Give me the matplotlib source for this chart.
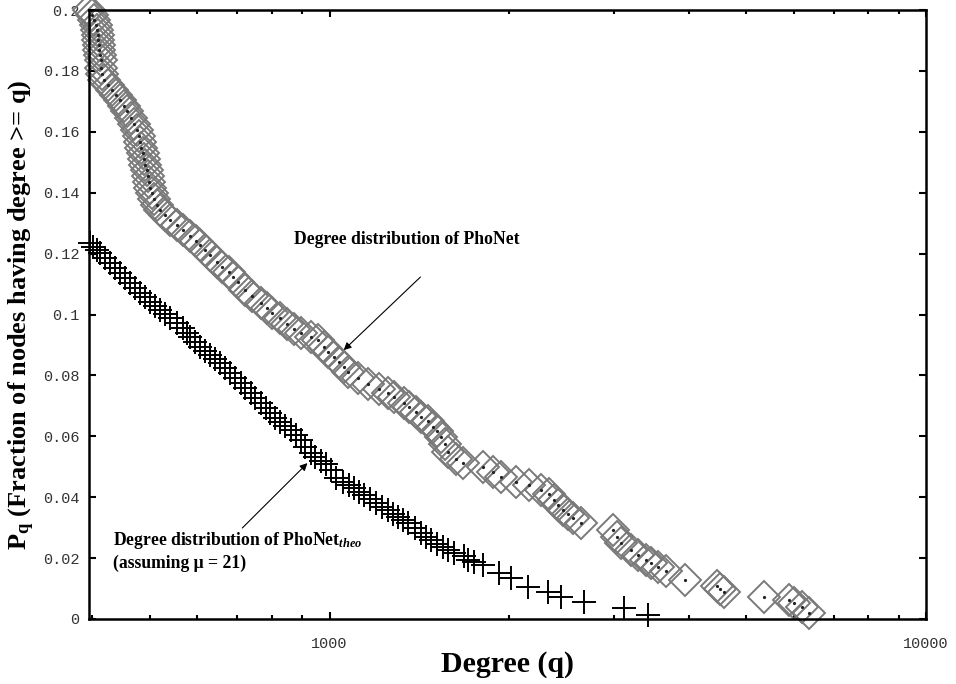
import numpy as np
import matplotlib
matplotlib.use("Agg")
import matplotlib.pyplot as plt
from matplotlib.ticker import FixedLocator, FuncFormatter, LogLocator, NullFormatter

plt.rcParams['mathtext.fontset'] = 'custom'
plt.rcParams['mathtext.rm'] = 'Liberation Serif:bold'
plt.rcParams['mathtext.bf'] = 'Liberation Serif:bold'
plt.rcParams['mathtext.it'] = 'Liberation Serif:bold:italic'

# cumulative degree distribution of PhoNet (observed)
phonet_deg = [395, 400, 403, 406, 407, 409, 409, 411, 411, 412,
              413, 413, 415, 419, 425, 432, 439, 445, 452, 458,
              465, 470, 476, 479, 481, 483, 487, 489, 491, 494,
              496, 498, 500, 504, 508, 514, 520, 530, 540, 555,
              568, 584, 598, 607, 619, 631, 648, 661, 677, 690,
              703, 722, 742, 766, 784, 802, 827, 850, 870, 894,
              929, 955, 977, 992, 1016, 1035, 1056, 1072, 1114, 1158,
              1209, 1252, 1281, 1332, 1358, 1395, 1422, 1461, 1490, 1513,
              1537, 1561, 1579, 1628, 1673, 1808, 1879, 1938, 2054, 2160,
              2263, 2334, 2380, 2417, 2464, 2512, 2561, 2642, 2990, 3036,
              3084, 3206, 3294, 3397, 3463, 3559, 3670, 3950, 4454, 4523,
              4576, 5342, 5885, 6000, 6189, 6359]
phonet_pq = [0.2000, 0.1984, 0.1967, 0.1951, 0.1934, 0.1918, 0.1901, 0.1885, 0.1869, 0.1852,
             0.1836, 0.1810, 0.1790, 0.1770, 0.1754, 0.1737, 0.1721, 0.1704, 0.1685, 0.1668,
             0.1645, 0.1626, 0.1606, 0.1586, 0.1567, 0.1547, 0.1530, 0.1511, 0.1491, 0.1475,
             0.1455, 0.1435, 0.1415, 0.1399, 0.1379, 0.1360, 0.1343, 0.1327, 0.1310, 0.1294,
             0.1278, 0.1258, 0.1241, 0.1228, 0.1212, 0.1195, 0.1172, 0.1156, 0.1140, 0.1123,
             0.1107, 0.1080, 0.1061, 0.1038, 0.1021, 0.1005, 0.0989, 0.0969, 0.0952, 0.0939,
             0.0926, 0.0916, 0.0893, 0.0877, 0.0860, 0.0844, 0.0828, 0.0811, 0.0791, 0.0772,
             0.0755, 0.0742, 0.0729, 0.0709, 0.0696, 0.0680, 0.0663, 0.0650, 0.0631, 0.0617,
             0.0598, 0.0575, 0.0548, 0.0525, 0.0512, 0.0499, 0.0483, 0.0466, 0.0450, 0.0440,
             0.0424, 0.0411, 0.0391, 0.0374, 0.0358, 0.0345, 0.0332, 0.0315, 0.0292, 0.0269,
             0.0250, 0.0227, 0.0210, 0.0194, 0.0184, 0.0171, 0.0158, 0.0128, 0.0108, 0.0099,
             0.0089, 0.0072, 0.0062, 0.0053, 0.0039, 0.0020]

# theoretical distribution (mu = 21)
theo_deg = [397, 401, 407, 412, 420, 429, 437, 445, 454, 463,
            472, 481, 491, 500, 510, 520, 530, 540, 555, 568,
            577, 584, 595, 607, 619, 631, 643, 656, 669, 682,
            695, 709, 722, 737, 751, 766, 781, 796, 811, 827,
            843, 860, 877, 894, 911, 929, 947, 966, 985, 1004,
            1027, 1052, 1076, 1097, 1119, 1141, 1167, 1195, 1223, 1252,
            1276, 1301, 1326, 1352, 1390, 1422, 1450, 1478, 1513, 1549,
            1579, 1616, 1680, 1706, 1746, 1808, 1923, 2015, 2152, 2325,
            2445, 2672, 3120, 3423]
theo_pq = [0.1235, 0.1222, 0.1212, 0.1202, 0.1186, 0.1169, 0.1153, 0.1136, 0.1120, 0.1103,
           0.1087, 0.1071, 0.1057, 0.1041, 0.1028, 0.1015, 0.1002, 0.0989, 0.0972, 0.0956,
           0.0939, 0.0926, 0.0910, 0.0893, 0.0880, 0.0867, 0.0854, 0.0841, 0.0824, 0.0808,
           0.0791, 0.0775, 0.0759, 0.0742, 0.0726, 0.0709, 0.0693, 0.0677, 0.0660, 0.0647,
           0.0634, 0.0621, 0.0604, 0.0588, 0.0565, 0.0545, 0.0532, 0.0519, 0.0509, 0.0489,
           0.0463, 0.0450, 0.0440, 0.0430, 0.0417, 0.0407, 0.0394, 0.0381, 0.0368, 0.0358,
           0.0345, 0.0335, 0.0325, 0.0315, 0.0299, 0.0282, 0.0269, 0.0259, 0.0246, 0.0236,
           0.0227, 0.0217, 0.0207, 0.0194, 0.0187, 0.0177, 0.0151, 0.0135, 0.0105, 0.0089,
           0.0072, 0.0056, 0.0036, 0.0013]

y_ticks = [0, 0.02, 0.04, 0.06, 0.08, 0.1, 0.12, 0.14, 0.16, 0.18, 0.2]
x_ticks = [1000, 10000]

fig = plt.figure(figsize=(9.56, 6.84), dpi=100)
ax = fig.add_axes([89 / 956, 1 - 619 / 684, 837 / 956, 609 / 684])

# markers sit under the axis layer so tick labels stay readable
ax.plot(theo_deg, theo_pq, linestyle='none', marker='+', ms=17, mew=1.4,
        color='black', clip_on=False, zorder=2.1)
ax.plot(phonet_deg, phonet_pq, linestyle='none', marker='D', ms=16.5,
        mfc='none', mec='#7a7a7a', mew=1.4, clip_on=False, zorder=2.2)
ax.plot(phonet_deg, phonet_pq, linestyle='none', marker='o', ms=1.3,
        color='#222222', clip_on=False, zorder=2.3)

ax.set_xscale('log')
ax.set_xlim(395, 10000)
ax.set_ylim(0, 0.2)

ax.xaxis.set_major_locator(FixedLocator(x_ticks))
ax.xaxis.set_major_formatter(FuncFormatter(lambda v, p: '%d' % v))
ax.xaxis.set_minor_locator(LogLocator(base=10, subs=np.arange(2, 10), numticks=20))
ax.xaxis.set_minor_formatter(NullFormatter())
ax.set_yticks(y_ticks)
ax.yaxis.set_major_formatter(FuncFormatter(lambda v, p: '%g' % v))

ax.tick_params(which='both', direction='in', top=True, right=True, width=1.5,
               colors='black', labelcolor='#333333')
ax.tick_params(which='major', length=5)
ax.tick_params(which='minor', length=3)
ax.tick_params(axis='x', pad=13)
ax.tick_params(axis='y', pad=7)
for lab in ax.get_xticklabels() + ax.get_yticklabels():
    lab.set_fontfamily('Liberation Mono')
    lab.set_fontsize(11)
for sp in ax.spines.values():
    sp.set_linewidth(1.8)

ax.set_xlabel('Degree (q)', family='Liberation Serif', fontweight='bold',
              fontsize=21.5, labelpad=0)
ax.set_ylabel(r'$\mathbf{P_q}$ (Fraction of nodes having degree >= q)',
              family='Liberation Serif', fontweight='bold', fontsize=19, labelpad=4)

txt = dict(family='Liberation Serif', fontweight='bold', fontsize=12.7, va='center')
ax.text(870, 0.1245, 'Degree distribution of PhoNet', **txt)
ax.text(433, 0.0259, r'Degree distribution of PhoNet$_{\mathit{theo}}$', **txt)
ax.text(433, 0.0184, '(assuming \u03bc = 21)', **txt)

arrow = dict(arrowstyle='-|>', color='black', lw=0.8, mutation_scale=11,
             shrinkA=0, shrinkB=0)
ax.annotate('', xy=(1056, 0.0883), xytext=(1420, 0.1123), arrowprops=arrow)
ax.annotate('', xy=(918, 0.0512), xytext=(714, 0.0299), arrowprops=arrow)

fig.savefig('out.png', dpi=100)
